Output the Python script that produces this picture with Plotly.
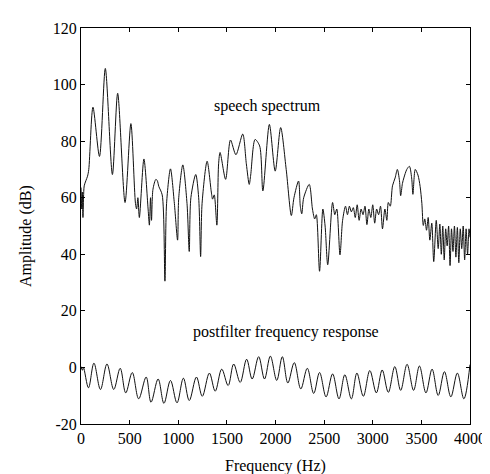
import plotly.graph_objects as go

# Speech spectrum (frequency in Hz, amplitude in dB)
speech_freq = [0, 8, 14, 20, 26, 33, 50, 67, 80, 123, 190, 250, 323, 377, 453, 513,
               560, 572, 585, 600, 647, 690, 703, 715, 725, 740, 770, 785, 800, 835,
               863, 880, 920, 960, 993, 1005, 1047, 1090, 1113, 1130, 1180, 1210, 1230,
               1245, 1297, 1340, 1353, 1370, 1397, 1415, 1430, 1487, 1537, 1593, 1663,
               1700, 1730, 1745, 1790, 1837, 1870, 1937, 1997, 2053, 2110, 2163, 2190,
               2237, 2255, 2270, 2290, 2347, 2380, 2403, 2420, 2453, 2487, 2510, 2537,
               2587, 2610, 2630, 2663, 2690, 2720, 2740, 2760, 2780, 2800, 2820, 2840,
               2860, 2880, 2900, 2920, 2940, 2960, 2980, 3000, 3020, 3040, 3060, 3080,
               3100, 3125, 3145, 3160, 3180, 3203, 3230, 3253, 3275, 3287, 3305, 3320,
               3350, 3377, 3400, 3413, 3437, 3465, 3487, 3505, 3520, 3535, 3553, 3570,
               3587, 3607, 3627, 3653, 3673, 3690, 3705, 3720, 3735, 3750, 3765, 3780,
               3795, 3810, 3825, 3840, 3855, 3870, 3885, 3900, 3915, 3930, 3945, 3960,
               3975, 3990, 4000]
speech_amp = [63.6, 56, 62, 53, 60, 64.2, 66, 67.6, 70, 92.0, 74.6, 105.7, 68.2, 96.9, 58.3, 86.2,
              58, 56, 60, 53, 73.7, 56, 50.3, 60, 52, 63, 66.5, 66, 64, 61,
              30.5, 58, 70.2, 58, 45, 60, 71.6, 58, 41, 60, 68.2, 60, 39.2,
              58, 72.9, 62, 59.5, 61, 50.3, 72, 76.0, 66.5, 80.4, 75.2, 82.5,
              72, 64.7, 68, 80.6, 78.3, 62.4, 85.9, 69.4, 84.8, 70, 53.7, 60,
              65.9, 57, 54.3, 60, 64.7, 56, 52.5, 54, 34, 56, 50, 36.3,
              58.3, 54, 56, 39.8, 52, 57, 54, 57, 55, 56.5, 53, 57.5,
              52, 56, 54, 57, 50.5, 56, 53, 57.5, 51, 56, 54, 57,
              49, 56, 52, 58.3, 57, 64.2, 67, 70, 66, 60.7, 65, 67,
              70, 71.1, 67, 61.2, 70, 68, 64, 58, 50.2, 52.5, 48.5, 53,
              45, 51, 37.4, 52, 42, 50.7, 40, 50, 38, 49, 43, 50,
              36, 49, 41, 50, 39, 49.5, 37, 49, 42, 50, 38, 49,
              40, 49, 46]

# Postfilter frequency response (Hz, dB)
post_freq = [0, 15, 25, 77, 133, 200, 267, 337, 403, 460, 527, 593, 670, 720, 793, 853,
             920, 987, 1053, 1113, 1187, 1247, 1320, 1380, 1447, 1513, 1570, 1637, 1703,
             1760, 1827, 1887, 1947, 2013, 2070, 2127, 2193, 2260, 2327, 2393, 2453, 2520,
             2587, 2653, 2713, 2780, 2837, 2903, 2970, 3037, 3097, 3160, 3227, 3287, 3353,
             3420, 3480, 3547, 3610, 3673, 3737, 3803, 3870, 3937, 4000]
post_amp = [0.3, -1, 0, -7.2, 1.5, -7.8, 1.2, -7.8, -0.3, -9.0, -1.8, -11.1, -3.4, -12.3, -4.1, -12.7,
            -4.6, -12.5, -3.8, -11.7, -3.4, -10.2, -2.0, -8.4, -0.6, -6.4, 1.2, -5.3, 2.9,
            -4.1, 3.8, -4.1, 4.0, -4.6, 3.8, -5.5, 1.7, -7.6, -0.3, -9.2, -1.8, -10.4,
            -2.3, -11.1, -2.6, -11.1, -2.0, -10.2, -1.1, -9.0, -0.9, -8.8, 0.3, -8.1, 1.1,
            -8.1, 0.5, -9.0, -0.6, -9.9, -1.5, -10.4, -2.0, -11.1, 1.0]

x_ticks = [0, 500, 1000, 1500, 2000, 2500, 3000, 3500, 4000]
y_ticks = [-20, 0, 20, 40, 60, 80, 100, 120]

font_family = "Liberation Serif, Times New Roman, serif"
txt = dict(family=font_family, size=16, color="black")

fig = go.Figure()
fig.add_trace(go.Scatter(x=speech_freq, y=speech_amp, mode="lines",
                         line=dict(color="#111111", width=1, shape="spline", smoothing=0.8),
                         showlegend=False, hoverinfo="skip"))
fig.add_trace(go.Scatter(x=post_freq, y=post_amp, mode="lines",
                         line=dict(color="#111111", width=1, shape="spline", smoothing=1.0),
                         showlegend=False, hoverinfo="skip"))

fig.add_annotation(x=1920, y=92.5, text="speech spectrum", showarrow=False, font=txt)
fig.add_annotation(x=2110, y=12.4, text="postfilter frequency response", showarrow=False, font=txt)

# axis titles placed as annotations relative to the plot area
fig.add_annotation(x=0.5, xref="paper", y=0, yref="paper", yshift=-42, yanchor="middle",
                   text="Frequency (Hz)", showarrow=False, font=txt)
fig.add_annotation(x=0, xref="paper", xshift=-55, xanchor="center", y=0.5, yref="paper",
                   yanchor="middle", yshift=-10, textangle=-90, text="Amplitude (dB)",
                   showarrow=False, font=txt)

axis_common = dict(showline=True, linecolor="black", linewidth=1, mirror="ticks",
                   ticks="inside", ticklen=4, tickcolor="black", showgrid=False,
                   zeroline=False, tickfont=txt)

fig.update_xaxes(range=[0, 4000], tickvals=x_ticks, ticktext=[str(v) for v in x_ticks],
                 **axis_common)
fig.update_yaxes(range=[-20, 120], tickvals=y_ticks, ticktext=[str(v) for v in y_ticks],
                 **axis_common)

fig.update_layout(width=490, height=474, margin=dict(l=73, r=18, t=13, b=58),
                  paper_bgcolor="white", plot_bgcolor="white",
                  font=dict(family=font_family, color="black"))

fig.write_html("out.html")
